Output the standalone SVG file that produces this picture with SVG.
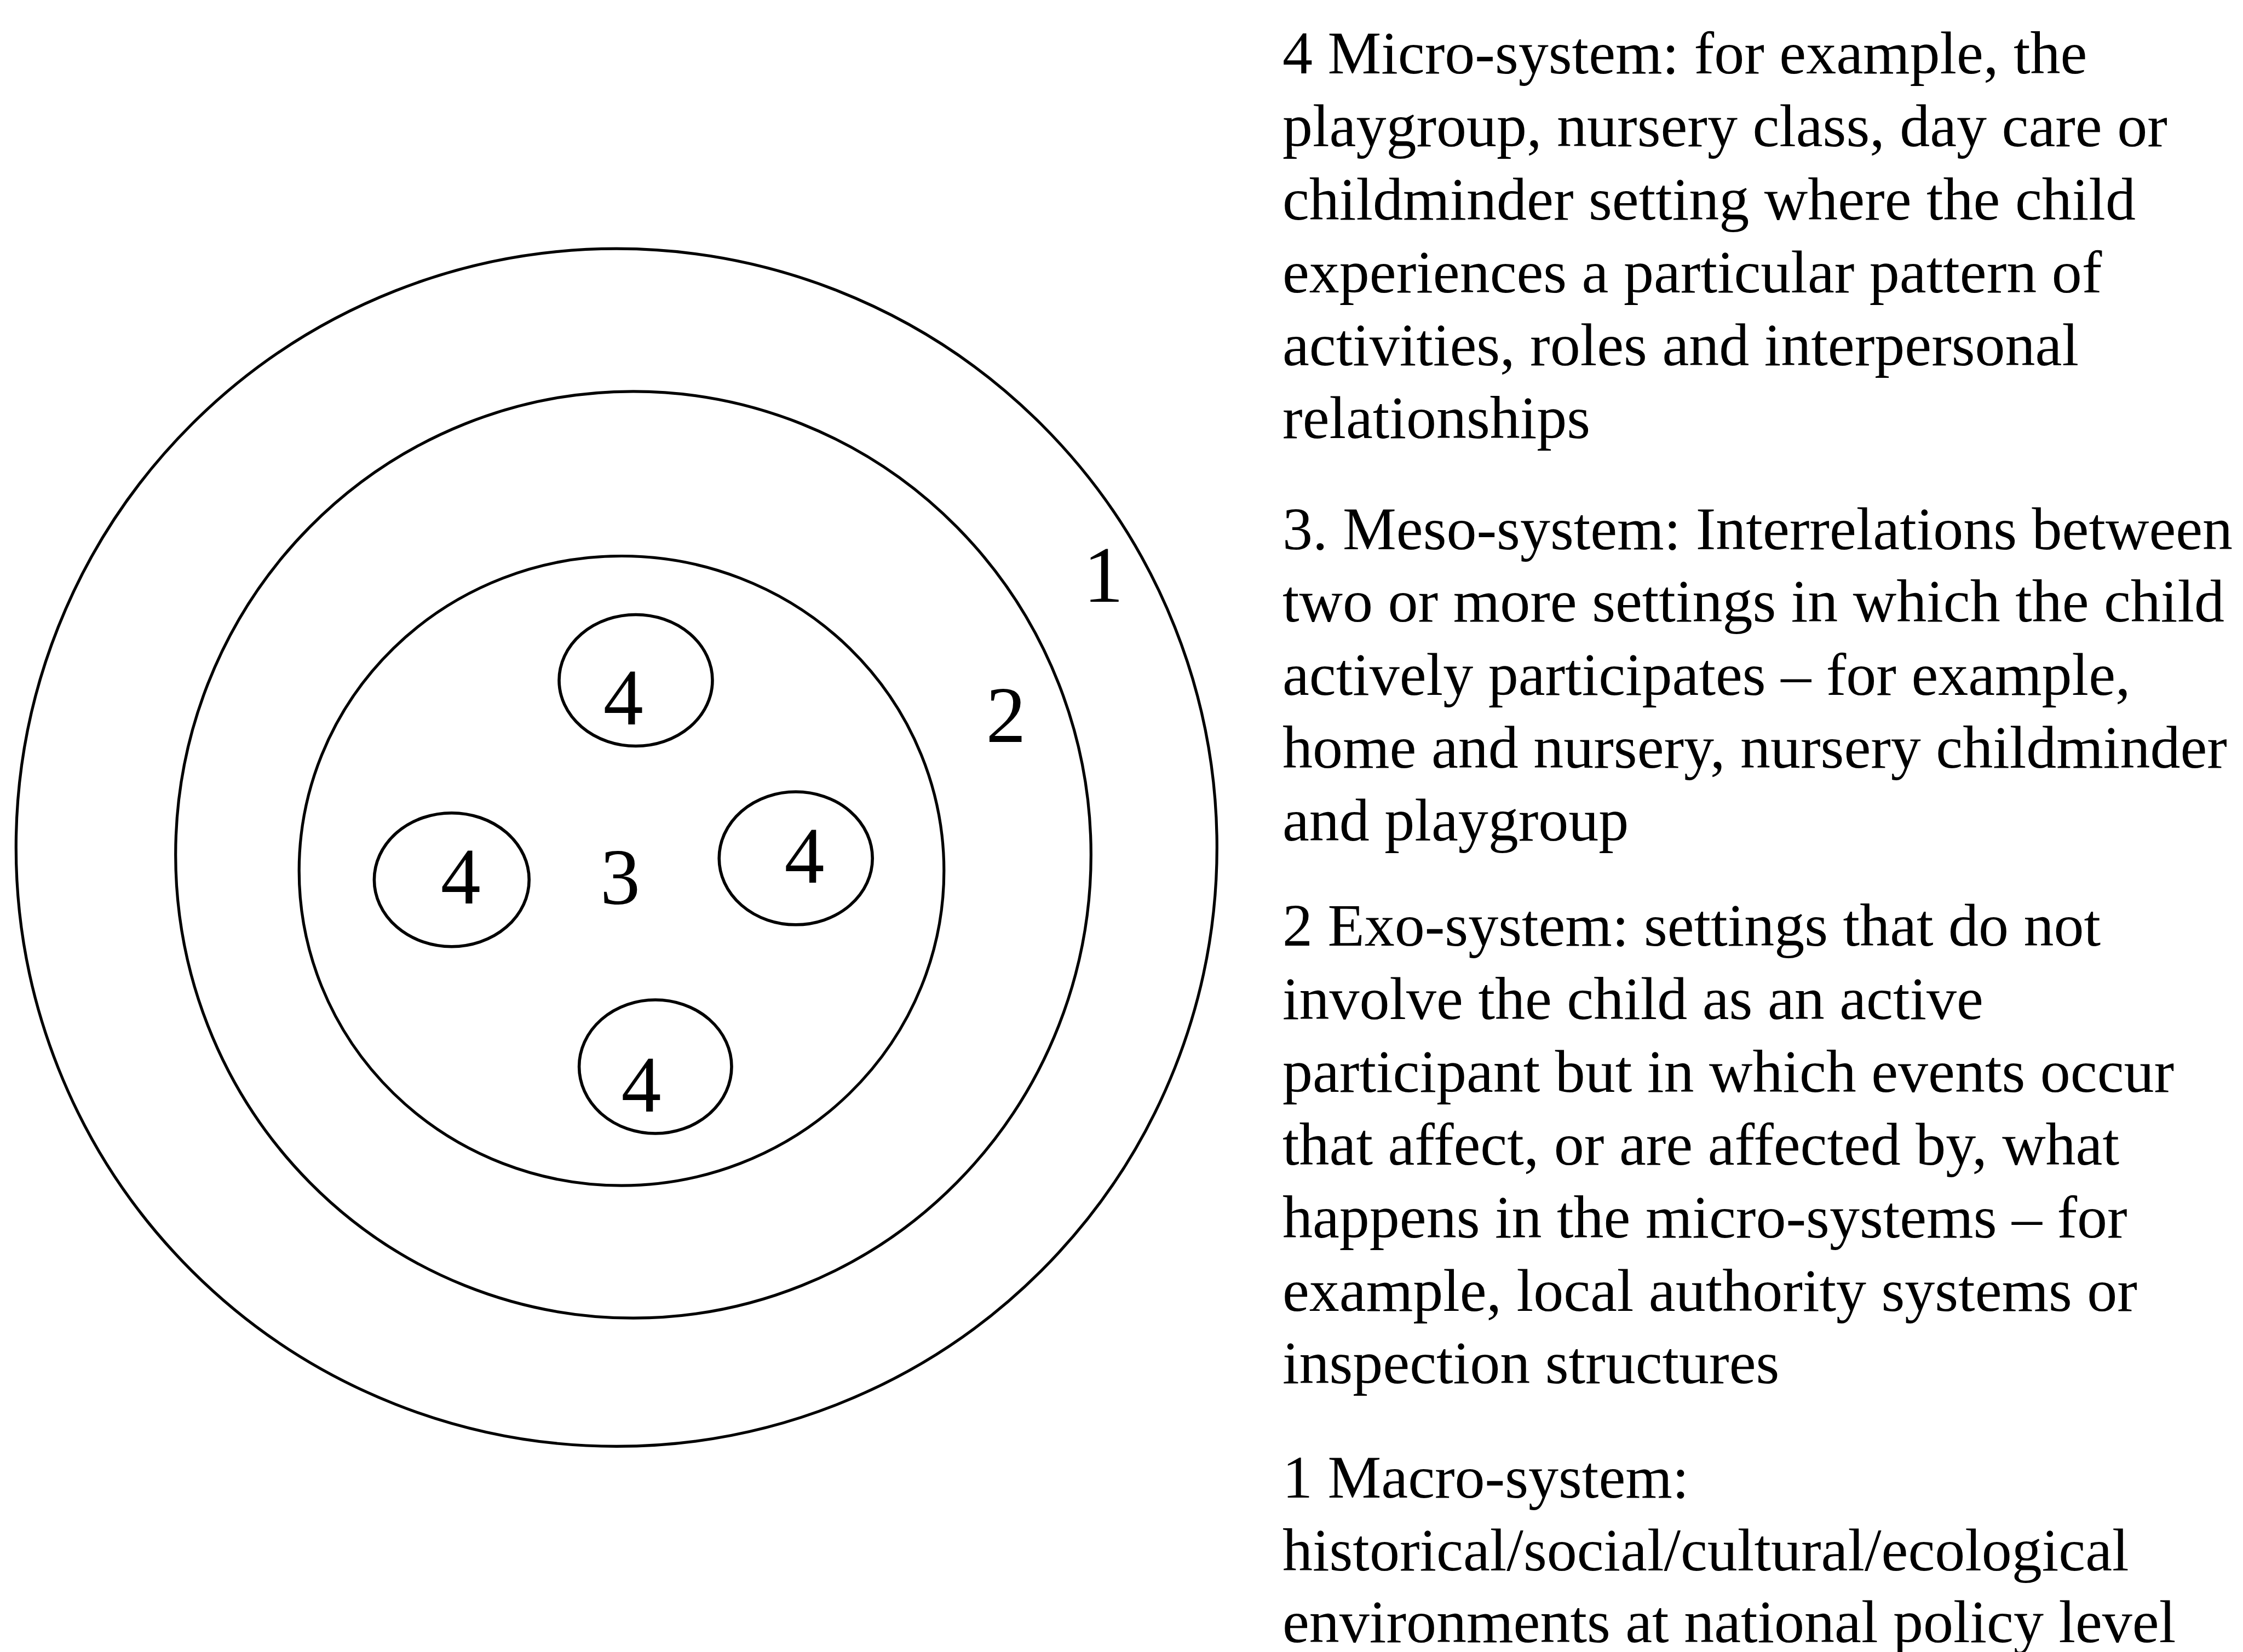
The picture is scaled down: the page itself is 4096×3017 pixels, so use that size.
<svg xmlns="http://www.w3.org/2000/svg" width="4096" height="3017" viewBox="0 0 4096 3017">
<style>
.ring{fill:none;stroke:#000;stroke-width:5.2}
.sub{fill:none;stroke:#000;stroke-width:5.6}
.num{font-family:"Liberation Serif","Times New Roman",serif;font-size:146px;fill:#000;text-anchor:middle}
.txt{font-family:"Liberation Serif","Times New Roman",serif;font-size:110px;fill:#000}
</style>
<rect width="4096" height="3017" fill="#fff"/>
<g id="ring1"><ellipse class="ring" cx="1125.8" cy="1547.8" rx="1096.5" ry="1093.6"/><text class="num" x="2015" y="1099">1</text></g>
<g id="ring2"><ellipse class="ring" cx="1156.5" cy="1561" rx="835.8" ry="846.2"/><text class="num" x="1837" y="1355">2</text></g>
<g id="ring3"><ellipse class="ring" cx="1135" cy="1590.3" rx="588.8" ry="574.8"/><text class="num" x="1132.5" y="1651">3</text></g>
<g id="micro-top"><ellipse class="sub" cx="1161" cy="1242.5" rx="140" ry="120"/><text class="num" x="1138.3" y="1323">4</text></g>
<g id="micro-left"><ellipse class="sub" cx="824.8" cy="1606.7" rx="141.4" ry="122"/><text class="num" x="841.2" y="1649.5">4</text></g>
<g id="micro-right"><ellipse class="sub" cx="1453.2" cy="1567.4" rx="140" ry="121.4"/><text class="num" x="1468.9" y="1611.7">4</text></g>
<g id="micro-bottom"><ellipse class="sub" cx="1196.8" cy="1948" rx="139.2" ry="122"/><text class="num" x="1171.1" y="2030">4</text></g>
<g id="connectors"></g>
<g id="legend" class="txt">
<text x="2342" y="134.2">4 Micro-system: for example, the</text>
<text x="2342" y="267.4">playgroup, nursery class, day care or</text>
<text x="2342" y="400.6">childminder setting where the child</text>
<text x="2342" y="533.8">experiences a particular pattern of</text>
<text x="2342" y="667">activities, roles and interpersonal</text>
<text x="2342" y="800.1">relationships</text>
<text x="2342" y="1002.6">3. Meso-system: Interrelations between</text>
<text x="2342" y="1135.4">two or more settings in which the child</text>
<text x="2342" y="1268.9">actively participates – for example,</text>
<text x="2342" y="1401.8">home and nursery, nursery childminder</text>
<text x="2342" y="1535.3">and playgroup</text>
<text x="2342" y="1727.4">2 Exo-system: settings that do not</text>
<text x="2342" y="1860.9">involve the child as an active</text>
<text x="2342" y="1993.7">participant but in which events occur</text>
<text x="2342" y="2127.3">that affect, or are affected by, what</text>
<text x="2342" y="2260.1">happens in the micro-systems – for</text>
<text x="2342" y="2393.6">example, local authority systems or</text>
<text x="2342" y="2526.4">inspection structures</text>
<text x="2342" y="2734.9">1 Macro-system:</text>
<text x="2342" y="2867.8">historical/social/cultural/ecological</text>
<text x="2342" y="2999.2">environments at national policy level</text>
</g>
</svg>
